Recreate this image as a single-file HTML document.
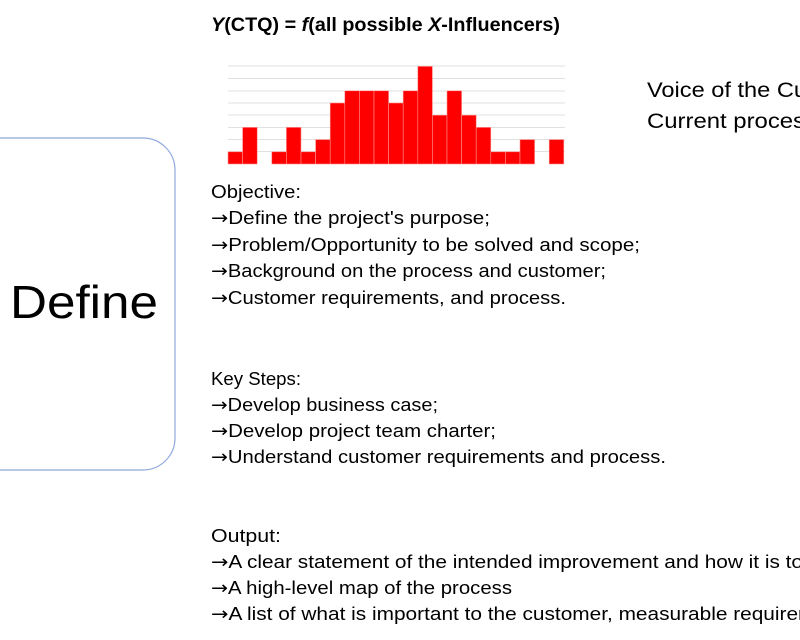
<!DOCTYPE html>
<html><head><meta charset="utf-8"><style>
html,body{margin:0;padding:0;background:#fff;}
svg{display:block;}
text{font-family:"Liberation Sans",sans-serif;fill:#000;}
.a{font-family:"DejaVu Sans",sans-serif;}
</style></head><body>
<svg width="800" height="640" viewBox="0 0 800 640">
<rect x="-40" y="138" width="215" height="332" rx="32" fill="none" stroke="#8faadc" stroke-width="1.2"/>
<text x="10" y="318" font-size="46" textLength="148" lengthAdjust="spacingAndGlyphs">Define</text>
<text x="211" y="31" font-size="19" font-weight="bold" textLength="349" lengthAdjust="spacingAndGlyphs"><tspan font-style="italic">Y</tspan>(CTQ) = <tspan font-style="italic">f</tspan>(all possible <tspan font-style="italic">X</tspan>-Influencers)</text>
<g stroke="#e0e0e0" stroke-width="1">
<line x1="228" x2="565" y1="66" y2="66"/><line x1="228" x2="565" y1="78.5" y2="78.5"/>
<line x1="228" x2="565" y1="91" y2="91"/><line x1="228" x2="565" y1="103" y2="103"/>
<line x1="228" x2="565" y1="115" y2="115"/><line x1="228" x2="565" y1="127.5" y2="127.5"/>
<line x1="228" x2="565" y1="139.5" y2="139.5"/><line x1="228" x2="565" y1="151.5" y2="151.5"/>
</g>
<text x="647" y="97" font-size="21" textLength="160" lengthAdjust="spacingAndGlyphs">Voice of the Cu</text>
<text x="647" y="128" font-size="21" textLength="158" lengthAdjust="spacingAndGlyphs">Current proces</text>
<g font-size="18">
<text x="211" y="198" textLength="90" lengthAdjust="spacingAndGlyphs">Objective:</text>
<text x="211" y="224" textLength="279" lengthAdjust="spacingAndGlyphs"><tspan class="a">→</tspan>Define the project's purpose;</text>
<text x="211" y="251" textLength="429" lengthAdjust="spacingAndGlyphs"><tspan class="a">→</tspan>Problem/Opportunity to be solved and scope;</text>
<text x="211" y="277" textLength="395" lengthAdjust="spacingAndGlyphs"><tspan class="a">→</tspan>Background on the process and customer;</text>
<text x="211" y="304" textLength="355" lengthAdjust="spacingAndGlyphs"><tspan class="a">→</tspan>Customer requirements, and process.</text>
<text x="211" y="385" textLength="90" lengthAdjust="spacingAndGlyphs">Key Steps:</text>
<text x="211" y="411" textLength="227" lengthAdjust="spacingAndGlyphs"><tspan class="a">→</tspan>Develop business case;</text>
<text x="211" y="437" textLength="285" lengthAdjust="spacingAndGlyphs"><tspan class="a">→</tspan>Develop project team charter;</text>
<text x="211" y="463" textLength="455" lengthAdjust="spacingAndGlyphs"><tspan class="a">→</tspan>Understand customer requirements and process.</text>
<text x="211" y="542" textLength="70" lengthAdjust="spacingAndGlyphs">Output:</text>
<text x="211" y="568" textLength="592" lengthAdjust="spacingAndGlyphs"><tspan class="a">→</tspan>A clear statement of the intended improvement and how it is to</text>
<text x="211" y="594" textLength="301" lengthAdjust="spacingAndGlyphs"><tspan class="a">→</tspan>A high-level map of the process</text>
<text x="211" y="620" textLength="594" lengthAdjust="spacingAndGlyphs"><tspan class="a">→</tspan>A list of what is important to the customer, measurable requirer</text>
</g>
<g fill="#ff0000" stroke="#ff9090" stroke-width="0.6">
<rect x="228.0" y="151.8" width="14.6" height="12.2"/>
<rect x="242.6" y="127.4" width="14.6" height="36.6"/>
<rect x="271.8" y="151.8" width="14.6" height="12.2"/>
<rect x="286.4" y="127.4" width="14.6" height="36.6"/>
<rect x="301.0" y="151.8" width="14.6" height="12.2"/>
<rect x="315.6" y="139.6" width="14.6" height="24.4"/>
<rect x="330.2" y="103.0" width="14.6" height="61.0"/>
<rect x="344.8" y="90.8" width="14.6" height="73.2"/>
<rect x="359.4" y="90.8" width="14.6" height="73.2"/>
<rect x="374.0" y="90.8" width="14.6" height="73.2"/>
<rect x="388.6" y="103.0" width="14.6" height="61.0"/>
<rect x="403.2" y="90.8" width="14.6" height="73.2"/>
<rect x="417.8" y="66.4" width="14.6" height="97.6"/>
<rect x="432.4" y="115.2" width="14.6" height="48.8"/>
<rect x="447.0" y="90.8" width="14.6" height="73.2"/>
<rect x="461.6" y="115.2" width="14.6" height="48.8"/>
<rect x="476.2" y="127.4" width="14.6" height="36.6"/>
<rect x="490.8" y="151.8" width="14.6" height="12.2"/>
<rect x="505.4" y="151.8" width="14.6" height="12.2"/>
<rect x="520.0" y="139.6" width="14.6" height="24.4"/>
<rect x="549.2" y="139.6" width="14.6" height="24.4"/>
</g>
</svg>
</body></html>
